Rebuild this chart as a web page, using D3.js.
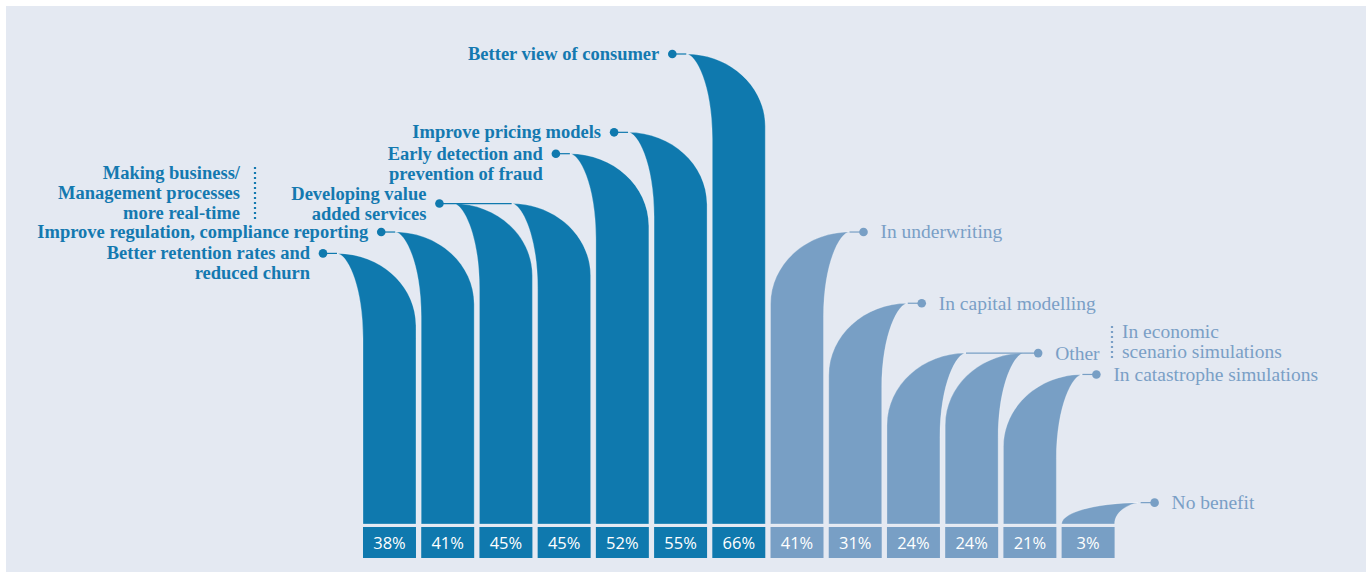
<!DOCTYPE html>
<html>
<head>
<meta charset="utf-8">
<script src="https://cdn.jsdelivr.net/npm/d3@7"></script>
<style>
  body { margin: 0; background: #ffffff; }
  svg { display: block; }
</style>
</head>
<body>
<div id="chart"></div>
<script>
var vizWidth = 1370,
    vizHeight = 572,
    baseY = 524;

// data
var values = [38, 41, 45, 45, 52, 55, 66, 41, 31, 24, 24, 21, 3];
var groups = ["dark", "dark", "dark", "dark", "dark", "dark", "dark",
              "light", "light", "light", "light", "light", "light"];
var barLabels = [
  ["Better retention rates and", "reduced churn"],
  ["Improve regulation, compliance reporting"],
  ["Developing value", "added services"],
  null,
  ["Early detection and", "prevention of fraud"],
  ["Improve pricing models"],
  ["Better view of consumer"],
  ["In underwriting"],
  ["In capital modelling"],
  null,
  ["Other"],
  ["In catastrophe simulations"],
  ["No benefit"]
];
// bars whose top joins the dot of a neighbour (tied values)
var sharedWith = {3: 2, 9: 10};
var darkNote = ["Making business/", "Management processes", "more real-time"];
var lightNote = ["In economic", "scenario simulations"];

var colors = {dark: "#0f79ae", light: "#789fc5"};
var textColors = {dark: "#1479b0", light: "#7a9fc6"};
var fonts = {
  dark: {weight: "bold", size: "18.5px"},
  light: {weight: "normal", size: "19.5px"}
};
var lh = 20;

var viz = d3.select("#chart").append("svg")
    .attr("width", vizWidth)
    .attr("height", vizHeight);

viz.append("rect")
    .attr("x", 6).attr("y", 6)
    .attr("width", 1360).attr("height", vizHeight - 6)
    .attr("fill", "#e4e9f2");

var x = d3.scaleBand()
    .domain(d3.range(values.length))
    .range([363, 1114.6])
    .paddingInner(0.09)
    .paddingOuter(0);

var y = d3.scaleLinear()
    .domain([0, 66])
    .range([baseY, 54]);

var bw = x.bandwidth(),
    flare = 26,
    dotGap = 14;

// tip of the flared top
function tipX(i) {
  return groups[i] == "dark" ? x(i) - flare : x(i) + bw + flare;
}

function barPath(d, i) {
  var xl = x(i), xr = x(i) + bw, yt = y(d),
      tx = tipX(i),
      h = baseY - yt,
      chIn = Math.min(85, h), chOut = Math.min(72, h);
  var inner, outer;
  if (groups[i] == "dark") { inner = xl; outer = xr; }
  else { inner = xr; outer = xl; }
  var p = d3.path();
  p.moveTo(inner, baseY);
  p.lineTo(inner, yt + chIn);
  p.bezierCurveTo(inner, yt + chIn * 0.35, tx + (inner - tx) * 0.35, yt, tx, yt);
  p.bezierCurveTo(tx + (outer - tx) * 0.55, yt, outer, yt + chOut * 0.45, outer, yt + chOut);
  p.lineTo(outer, baseY);
  p.closePath();
  return p.toString();
}

var bars = viz.append("g").attr("class", "bars");

bars.selectAll("path")
    .data(values)
    .enter()
    .append("path")
    .attr("d", barPath)
    .attr("fill", function(d, i) { return colors[groups[i]]; })
    .style("stroke", "rgba(255,255,255,0.35)")
    .style("stroke-width", 0.8);

// value boxes under the bars
var boxes = viz.append("g").attr("class", "boxes");
boxes.selectAll("rect")
    .data(values)
    .enter()
    .append("rect")
    .attr("x", function(d, i) { return x(i); })
    .attr("y", 527)
    .attr("width", bw)
    .attr("height", 31)
    .attr("fill", function(d, i) { return colors[groups[i]]; });

boxes.selectAll("text")
    .data(values)
    .enter()
    .append("text")
    .attr("x", function(d, i) { return x(i) + bw / 2; })
    .attr("y", 543)
    .attr("dy", "0.36em")
    .attr("text-anchor", "middle")
    .style("font-family", "'Open Sans', sans-serif")
    .style("font-weight", 500)
    .style("font-size", "16.5px")
    .style("fill", "#ffffff")
    .text(function(d) { return d + "%"; });

// connectors, dots and labels
var ann = viz.append("g").attr("class", "labels");

function labelText(g) {
  return ann.append("text")
      .style("font-family", "'Liberation Serif', serif")
      .style("font-weight", fonts[g].weight)
      .style("font-size", fonts[g].size)
      .style("fill", textColors[g]);
}

values.forEach(function(v, i) {
  if (!barLabels[i]) return;
  var g = groups[i],
      yt = y(v),
      tx = tipX(i),
      dx = g == "dark" ? tx - dotGap : tx + dotGap,
      lineEnd = tx;
  // stretch the line to a tied neighbour
  for (var k in sharedWith) {
    if (sharedWith[k] == i) lineEnd = tipX(+k);
  }
  ann.append("line")
      .attr("x1", dx).attr("x2", lineEnd)
      .attr("y1", yt).attr("y2", yt)
      .style("stroke", colors[g])
      .style("stroke-width", 1.2);
  ann.append("circle")
      .attr("cx", dx).attr("cy", yt).attr("r", 4.3)
      .attr("fill", colors[g]);

  var lines = barLabels[i],
      startY = yt;
  if (i == 2) startY = yt - lh / 2;
  var t = labelText(g)
      .attr("text-anchor", g == "dark" ? "end" : "start");
  lines.forEach(function(s, j) {
    t.append("tspan")
        .attr("x", g == "dark" ? dx - 13 : dx + 17)
        .attr("y", startY + j * lh)
        .attr("dy", "0.33em")
        .text(s);
  });
});

// notes for the tied bars
var n1 = labelText("dark").attr("text-anchor", "end");
darkNote.forEach(function(s, j) {
  n1.append("tspan").attr("x", 240).attr("y", 173 + j * lh).attr("dy", "0.33em").text(s);
});
ann.append("line")
    .attr("x1", 255).attr("x2", 255)
    .attr("y1", 167).attr("y2", 220)
    .style("stroke", textColors.dark)
    .style("stroke-width", 2.2)
    .style("stroke-dasharray", "2,3");

var n2 = labelText("light");
lightNote.forEach(function(s, j) {
  n2.append("tspan").attr("x", 1122).attr("y", 332 + j * lh).attr("dy", "0.33em").text(s);
});
ann.append("line")
    .attr("x1", 1112).attr("x2", 1112)
    .attr("y1", 326).attr("y2", 358)
    .style("stroke", textColors.light)
    .style("stroke-width", 2.2)
    .style("stroke-dasharray", "2,3");
</script>
</body>
</html>
